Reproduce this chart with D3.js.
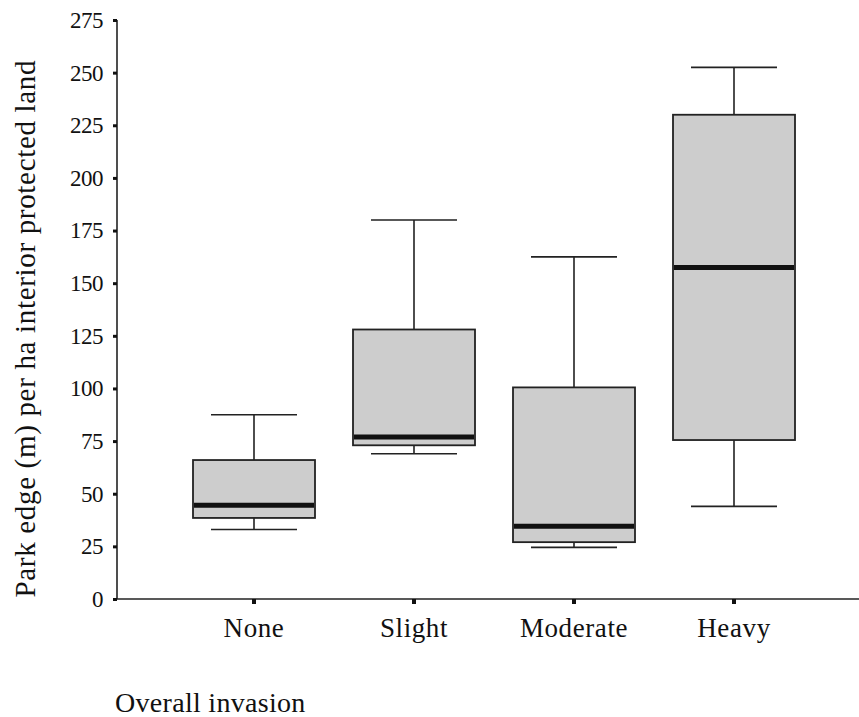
<!DOCTYPE html>
<html><head><meta charset="utf-8">
<script src="https://cdn.jsdelivr.net/npm/d3@7"></script>
<style>body{margin:0;background:#fff}svg{display:block}svg text{font-family:'Liberation Serif','Times New Roman',serif}</style>
</head><body>
<script>
const categories = ["None", "Slight", "Moderate", "Heavy"];
const whiskerLow  = [33, 69, 24.5, 44];
const q1          = [38.5, 73, 27, 75.5];
const median      = [44.5, 77, 34.5, 157.5];
const q3          = [66, 128, 100.5, 230];
const whiskerHigh = [87.5, 180, 162.5, 252.5];
const yTicks = [0, 25, 50, 75, 100, 125, 150, 175, 200, 225, 250, 275];

const W = 859, H = 717;
const svg = d3.select("body").append("svg").attr("width", W).attr("height", H);
const font = "'Liberation Serif', 'Times New Roman', serif";

const y = d3.scaleLinear().domain([0, 275]).range([599, 20]);
const x = d3.scaleBand().domain(categories).range([174, 814]);
const boxW = 122, capW = 86;

// y axis
const yAx = svg.append("g").attr("transform", "translate(117,0)")
  .call(d3.axisLeft(y).tickValues(yTicks).tickSize(4).tickPadding(10))
  .attr("font-family", font);
yAx.select(".domain").attr("stroke", "#222").attr("stroke-width", 1.6).attr("d", `M0,${y(275)}V${y(0)}`);
yAx.selectAll(".tick line").attr("stroke", "#111").attr("stroke-width", 3);
yAx.selectAll(".tick text").attr("font-size", 23).attr("fill", "#111").attr("letter-spacing", -0.5);

// x axis
const xAx = svg.append("g").attr("transform", "translate(0,599)")
  .call(d3.axisBottom(x).tickSize(5).tickPadding(14))
  .attr("font-family", font);
xAx.select(".domain").attr("stroke", "#222").attr("stroke-width", 1.6).attr("d", `M117,0H859`);
xAx.selectAll(".tick line").attr("stroke", "#111").attr("stroke-width", 4);
xAx.selectAll(".tick text").attr("font-size", 27).attr("fill", "#111").attr("letter-spacing", 0.6);

const data = categories.map((c, i) => ({c, lo: whiskerLow[i], q1: q1[i], med: median[i], q3: q3[i], hi: whiskerHigh[i]}));
const g = svg.append("g");
const bx = d => x(d.c) + x.bandwidth() / 2;

// whiskers
g.selectAll(".wh").data(data).join("path")
  .attr("d", d => `M${bx(d)},${y(d.hi)}V${y(d.q3)}M${bx(d)},${y(d.q1)}V${y(d.lo)}`)
  .attr("stroke", "#222").attr("stroke-width", 1.6).attr("fill", "none");
g.selectAll(".cap").data(data).join("path")
  .attr("d", d => `M${bx(d)-capW/2},${y(d.hi)}h${capW}M${bx(d)-capW/2},${y(d.lo)}h${capW}`)
  .attr("stroke", "#222").attr("stroke-width", 1.6).attr("fill", "none");
// boxes
g.selectAll(".box").data(data).join("rect")
  .attr("x", d => bx(d) - boxW/2).attr("width", boxW)
  .attr("y", d => y(d.q3)).attr("height", d => y(d.q1) - y(d.q3))
  .attr("fill", "#cdcdcd").attr("stroke", "#222").attr("stroke-width", 1.8);
// medians
g.selectAll(".med").data(data).join("line")
  .attr("x1", d => bx(d) - boxW/2 + 1).attr("x2", d => bx(d) + boxW/2 - 1)
  .attr("y1", d => y(d.med)).attr("y2", d => y(d.med))
  .attr("stroke", "#111").attr("stroke-width", 5);

// y title
svg.append("text").attr("transform", "translate(35,329) rotate(-90)")
  .attr("text-anchor", "middle").attr("font-family", font).attr("font-size", 29)
  .attr("fill", "#111").attr("textLength", 537).attr("lengthAdjust", "spacing")
  .text("Park edge (m) per ha interior protected land");

// x title
svg.append("text").attr("x", 115).attr("y", 712)
  .attr("font-family", font).attr("font-size", 28).attr("fill", "#111")
  .attr("letter-spacing", 0.3)
  .text("Overall invasion");
</script>
</body></html>
